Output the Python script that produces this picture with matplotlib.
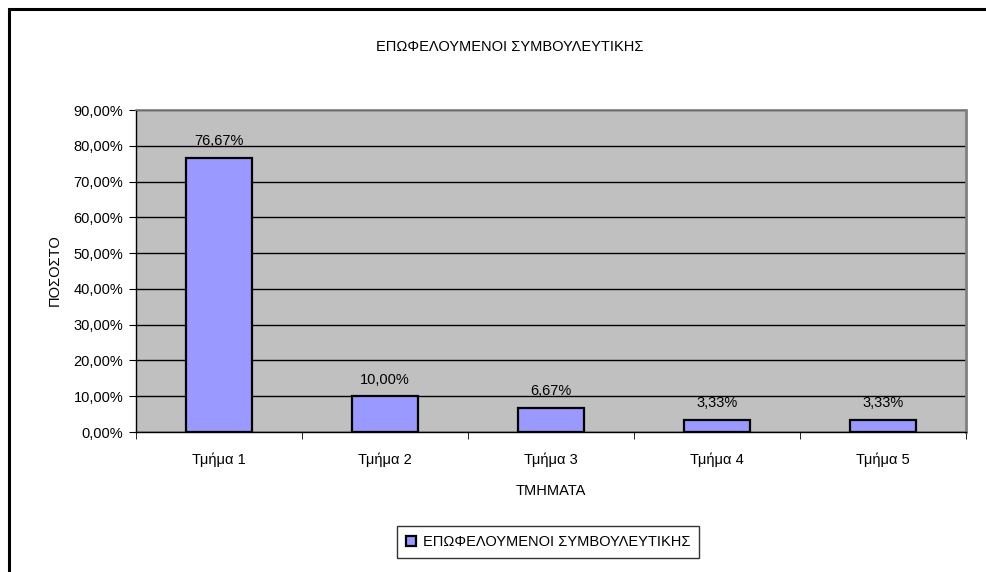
import matplotlib
matplotlib.use("Agg")
import matplotlib.pyplot as plt
from matplotlib.patches import Rectangle
from matplotlib.ticker import MultipleLocator, FuncFormatter

categories = ["Τμήμα 1", "Τμήμα 2", "Τμήμα 3", "Τμήμα 4", "Τμήμα 5"]
values = [76.67, 10.00, 6.67, 3.33, 3.33]
series_name = "ΕΠΩΦΕΛΟΥΜΕΝΟΙ ΣΥΜΒΟΥΛΕΥΤΙΚΗΣ"
title = "ΕΠΩΦΕΛΟΥΜΕΝΟΙ ΣΥΜΒΟΥΛΕΥΤΙΚΗΣ"
xlabel = "ΤΜΗΜΑΤΑ"
ylabel = "ΠΟΣΟΣΤΟ"

plt.rcParams['font.family'] = ['Liberation Sans', 'DejaVu Sans']
FS = 10.5
W, H = 987, 572
fig = plt.figure(figsize=(W/100, H/100), dpi=100)

# outer chart frame (extends past right/bottom edge)
fig.patches.append(Rectangle((9/W, -0.1), 1.2, 1 - 9/H + 0.1, transform=fig.transFigure,
                             fill=False, edgecolor='black', linewidth=2.2, zorder=0))

left, right, top, bottom = 136, 966, 110, 432
ax = fig.add_axes([left/W, 1 - bottom/H, (right-left)/W, (bottom-top)/H])
ax.set_facecolor('#C0C0C0')

x = list(range(len(categories)))
ax.bar(x, values, width=0.4, color='#9999FF', edgecolor='black', linewidth=1.6, zorder=3,
       label=series_name)
for xi, v in zip(x, values):
    ax.annotate(f"{v:.2f}%".replace('.', ','), (xi, v), xytext=(0, 7), textcoords='offset points',
                ha='center', va='bottom', fontsize=FS)

ax.set_xlim(-0.5, len(categories) - 0.5)
ax.set_ylim(0, 90)
ax.yaxis.set_major_locator(MultipleLocator(10))
ax.yaxis.set_major_formatter(FuncFormatter(lambda v, p: f"{v:.2f}%".replace('.', ',')))
ax.grid(axis='y', color='black', linewidth=1.0, zorder=1)
ax.set_axisbelow(True)

ax.set_xticks(x)
ax.set_xticklabels(categories, fontsize=FS)
ax.tick_params(axis='x', length=0, pad=15)
ax.set_xticks([i - 0.5 for i in range(len(categories) + 1)], minor=True)
ax.tick_params(axis='x', which='minor', length=5, direction='out', color='black')
ax.tick_params(axis='y', labelsize=FS, length=5, direction='out', color='black', pad=4)

ax.spines['top'].set_color('#808080')
ax.spines['top'].set_linewidth(1.2)
ax.spines['right'].set_color('#808080')
ax.spines['right'].set_linewidth(2)
for s in ['left', 'bottom']:
    ax.spines[s].set_color('black')
    ax.spines[s].set_linewidth(1.0)

fig.text(510/W, 1 - 47/H, title, ha='center', va='center', fontsize=FS)
fig.text(551/W, 1 - 491/H, xlabel, ha='center', va='center', fontsize=FS)
fig.text(55/W, 1 - 270/H, ylabel, ha='center', va='center', rotation=90, fontsize=FS)

leg = fig.legend(loc='center', bbox_to_anchor=(548/W, 1 - 542/H), fontsize=FS,
                 frameon=True, fancybox=False, edgecolor='black', handlelength=0.7,
                 handleheight=0.7, handletextpad=0.5, borderpad=0.6)
leg.get_frame().set_linewidth(1.0)

fig.savefig("out.png", dpi=100, facecolor='white')
